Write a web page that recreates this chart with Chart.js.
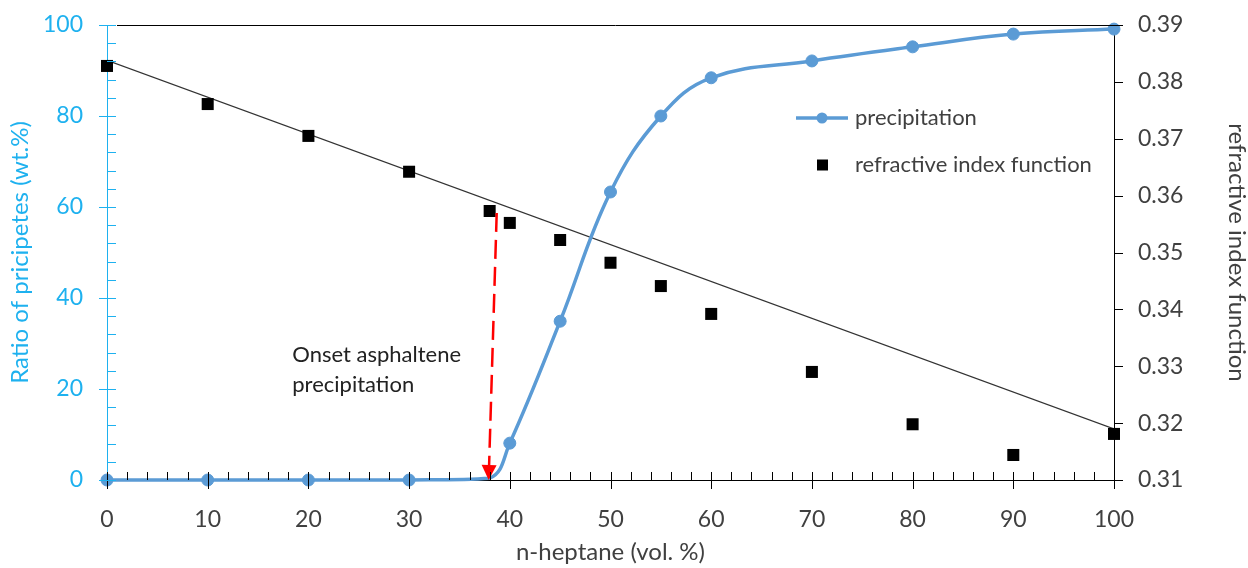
<!DOCTYPE html>
<html>
<head>
<meta charset="utf-8">
<script src="https://cdn.jsdelivr.net/npm/chart.js@4.4.1/dist/chart.umd.min.js"></script>
<style>
  html, body { margin: 0; background: #ffffff; }
  #wrap { width: 1248px; height: 568px; }
</style>
</head>
<body>
<div id="wrap"><canvas id="chart" width="1248" height="568"></canvas></div>
<script>
// ─── DATA ────────────────────────────────────────────────────────────────
const precipX = [0, 10, 20, 30, 38, 40, 45, 50, 55, 60, 70, 80, 90, 100];
const precipY = [0, 0, 0, 0, 0.4, 8.1, 34.9, 63.3, 80.0, 88.4, 92.1, 95.2, 98.0, 99.1];
// onset point sits under the arrow head, drawn without a marker
const unmarkedX = [38];

const refrX = [0, 10, 20, 30, 38, 40, 45, 50, 55, 60, 70, 80, 90, 100];
const refrY = [0.3828, 0.3761, 0.3705, 0.3642, 0.3573, 0.3552, 0.3522, 0.3482,
               0.3441, 0.3392, 0.3290, 0.3198, 0.3144, 0.3181];

// linear trend of the refractive index function (end points)
const trendX = [0, 100];
const trendY = [0.3838, 0.3190];

// onset arrow: from (x, ratio) down to (x, ratio)
const onsetArrowX = [38.7, 37.9];
const onsetArrowY = [58.7, 0];
const onsetLabel = ["Onset asphaltene", "precipitation"];
const onsetLabelPos = { x: 18.4, y: [27.5, 20.9] };

const xTicks  = [0, 10, 20, 30, 40, 50, 60, 70, 80, 90, 100];
const yTicks  = [0, 20, 40, 60, 80, 100];
const y2Ticks = [0.31, 0.32, 0.33, 0.34, 0.35, 0.36, 0.37, 0.38, 0.39];

const CYAN  = "#1eb1ef";
const BLUE  = "#5b9bd5";
const TEXT  = "#404040";
const FONT  = "Lato, 'Liberation Sans', sans-serif";
const TICK_FONT  = { family: FONT, size: 23 };
const TITLE_FONT = { family: FONT, size: 24 };

const toPoints = (xs, ys) => xs.map((x, i) => ({ x, y: ys[i] }));

// fixed axis sizes; tick labels may run past the plot edges
const fixSize = (w, h) => s => {
  if (w) s.width = w;
  if (h) s.height = h;
  s.paddingTop = s.paddingBottom = s.paddingLeft = s.paddingRight = 0;
};

// ─── PLUGINS ─────────────────────────────────────────────────────────────
function seg(ctx, x1, y1, x2, y2) {
  ctx.beginPath();
  ctx.moveTo(x1, y1);
  ctx.lineTo(x2, y2);
  ctx.stroke();
}

// tick marks (major + minor) and the top frame line
const axisMarks = {
  id: "axisMarks",
  afterDraw(chart) {
    const { ctx, chartArea: a, scales: { x, y, y2 } } = chart;
    ctx.save();
    ctx.lineWidth = 1;

    // top line
    ctx.strokeStyle = "#000";
    seg(ctx, a.left + 10, Math.round(a.top) + 0.5, a.right, Math.round(a.top) + 0.5);

    // x axis: major every 10 (crossing), minor every 2 (inside)
    for (let v = 0; v <= 100; v += 2) {
      const px = Math.round(x.getPixelForValue(v)) + 0.5;
      const major = v % 10 === 0;
      seg(ctx, px, a.bottom - 8, px, a.bottom + (major ? 9 : 0));
    }

    // left axis: major every 20 (crossing), minor every 4 (inside)
    ctx.strokeStyle = CYAN;
    for (let v = 0; v <= 100; v += 4) {
      const py = Math.round(y.getPixelForValue(v)) + 0.5;
      const major = v % 20 === 0;
      seg(ctx, a.left - (major ? 8 : 0), py, a.left + 9, py);
    }

    // right axis: outside ticks
    ctx.strokeStyle = "#000";
    y2Ticks.forEach(v => {
      const py = Math.round(y2.getPixelForValue(v)) + 0.5;
      seg(ctx, a.right, py, a.right + 9, py);
    });
    ctx.restore();
  }
};

// onset annotation: dashed red arrow and label
const onsetNote = {
  id: "onsetNote",
  afterDatasetsDraw(chart) {
    const { ctx, scales: { x, y } } = chart;
    const x1 = x.getPixelForValue(onsetArrowX[0]);
    const y1 = y.getPixelForValue(onsetArrowY[0]);
    const x2 = x.getPixelForValue(onsetArrowX[1]);
    const y2p = y.getPixelForValue(onsetArrowY[1]);
    const headLen = 15, headW = 7.5;
    const ang = Math.atan2(y2p - y1, x2 - x1);
    const bx = x2 - headLen * Math.cos(ang);
    const by = y2p - headLen * Math.sin(ang);

    ctx.save();
    ctx.strokeStyle = "#ff0000";
    ctx.fillStyle = "#ff0000";
    ctx.lineWidth = 2.5;
    ctx.setLineDash([19, 8]);
    seg(ctx, x1, y1, bx, by);
    ctx.setLineDash([]);
    ctx.beginPath();
    ctx.moveTo(x2, y2p);
    ctx.lineTo(bx + headW * Math.sin(ang), by - headW * Math.cos(ang));
    ctx.lineTo(bx - headW * Math.sin(ang), by + headW * Math.cos(ang));
    ctx.closePath();
    ctx.fill();

    ctx.fillStyle = "#222";
    ctx.font = "22px " + FONT;
    ctx.textAlign = "left";
    ctx.textBaseline = "middle";
    onsetLabel.forEach((t, i) => {
      ctx.fillText(t, x.getPixelForValue(onsetLabelPos.x), y.getPixelForValue(onsetLabelPos.y[i]));
    });
    ctx.restore();
  }
};

// legend inside the plot area
const innerLegend = {
  id: "innerLegend",
  afterDraw(chart) {
    const { ctx } = chart;
    const lx = 796, tx = 855, r1 = 118, r2 = 165;
    ctx.save();
    ctx.strokeStyle = BLUE;
    ctx.lineWidth = 3.5;
    seg(ctx, lx, r1, lx + 52, r1);
    ctx.fillStyle = BLUE;
    ctx.beginPath();
    ctx.arc(lx + 26, r1, 5.5, 0, Math.PI * 2);
    ctx.fill();
    ctx.fillStyle = "#000";
    ctx.fillRect(lx + 21, r2 - 5.5, 11, 11);

    ctx.fillStyle = TEXT;
    ctx.font = "22px " + FONT;
    ctx.textBaseline = "middle";
    ctx.fillText("precipitation", tx, r1);
    ctx.fillText("refractive index function", tx, r2);
    ctx.restore();
  }
};

// ─── CHART ───────────────────────────────────────────────────────────────
new Chart(document.getElementById("chart"), {
  type: "scatter",
  data: {
    datasets: [
      {
        label: "precipitation",
        data: toPoints(precipX, precipY),
        yAxisID: "y",
        showLine: true,
        borderColor: BLUE,
        backgroundColor: BLUE,
        borderWidth: 3.5,
        pointRadius: c => unmarkedX.includes(precipX[c.dataIndex]) ? 0 : 6,
        pointBorderWidth: 1,
        pointHoverRadius: 6,
        tension: 0.4,
        clip: false,
        order: 1
      },
      {
        label: "refractive index function",
        data: toPoints(refrX, refrY),
        yAxisID: "y2",
        showLine: false,
        pointStyle: "rect",
        backgroundColor: "#000",
        borderColor: "#000",
        pointRadius: 8.5,
        pointBorderWidth: 0,
        pointHoverRadius: 8.5,
        clip: false,
        order: 2
      },
      {
        label: "trend",
        data: toPoints(trendX, trendY),
        yAxisID: "y2",
        showLine: true,
        borderColor: "#333",
        borderWidth: 1.2,
        pointRadius: 0,
        order: 3
      }
    ]
  },
  options: {
    responsive: false,
    animation: false,
    layout: { padding: { top: 25, right: 0, bottom: 0, left: 0 } },
    plugins: {
      legend: { display: false },
      tooltip: { enabled: false }
    },
    scales: {
      x: {
        type: "linear",
        min: 0, max: 100,
        afterBuildTicks: s => { s.ticks = xTicks.map(v => ({ value: v })); },
        afterFit: fixSize(0, 88),
        grid: { display: false, drawTicks: false },
        border: { display: true, color: "#000", width: 1 },
        ticks: { color: TEXT, font: TICK_FONT, padding: 26, maxRotation: 0 },
        title: {
          display: true, text: "n-heptane (vol. %)",
          color: TEXT, font: TITLE_FONT, padding: { top: 0, bottom: 1 }
        }
      },
      y: {
        position: "left",
        min: 0, max: 100,
        afterBuildTicks: s => { s.ticks = yTicks.map(v => ({ value: v })); },
        afterFit: fixSize(107, 0),
        grid: { display: false, drawTicks: false },
        border: { display: true, color: CYAN, width: 1 },
        ticks: { color: CYAN, font: TICK_FONT, padding: 24 },
        title: {
          display: true, text: "Ratio of pricipetes (wt.%)",
          color: CYAN, font: TITLE_FONT, padding: { top: 6, bottom: 0 }
        }
      },
      y2: {
        position: "right",
        min: 0.31, max: 0.39,
        afterBuildTicks: s => { s.ticks = y2Ticks.map(v => ({ value: v })); },
        afterFit: fixSize(134, 0),
        grid: { display: false, drawTicks: false },
        border: { display: true, color: "#000", width: 1 },
        ticks: { color: TEXT, font: TICK_FONT, padding: 24, callback: v => v.toFixed(2) },
        title: {
          display: true, text: "refractive index function",
          color: TEXT, font: TITLE_FONT, padding: { top: -3, bottom: 0 }
        }
      }
    }
  },
  plugins: [axisMarks, onsetNote, innerLegend]
});
</script>
</body>
</html>
